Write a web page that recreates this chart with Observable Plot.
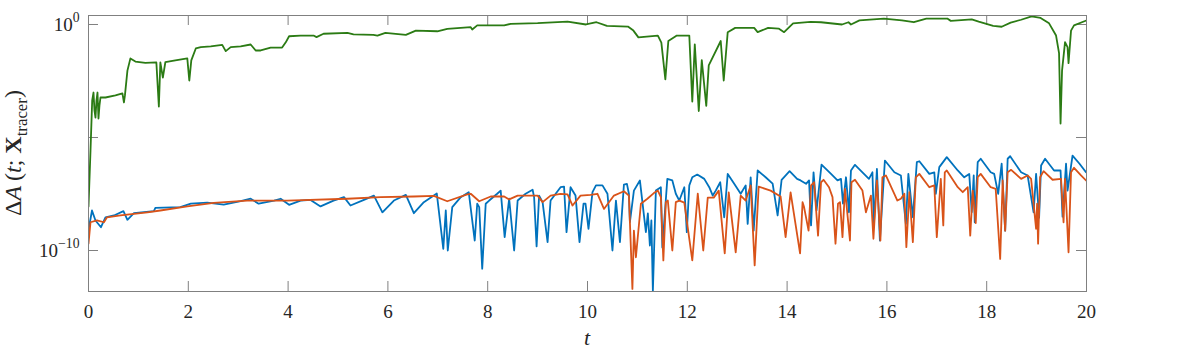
<!DOCTYPE html>
<html>
<head>
<meta charset="utf-8">
<script src="https://cdn.jsdelivr.net/npm/d3@7"></script>
<script src="https://cdn.jsdelivr.net/npm/@observablehq/plot@0.6"></script>
<style>
  html, body { margin: 0; padding: 0; background: #fff; }
  svg { display: block; }
</style>
</head>
<body>
<div id="chart"></div>
<script>
// Values. Series values are stored as log10(ΔA).
const xTicks = [0, 2, 4, 6, 8, 10, 12, 14, 16, 18, 20];
const yTicks = [1, 1e-5, 1e-10];
const yLabelTicks = [1, 1e-10];
const yDomain = [1.535e-12, 2.5];

const greenT = [0,0.04,0.074,0.10,0.12,0.14,0.16,0.18,0.20,0.22,0.24,0.34,0.54,0.68,0.71,0.73,0.78,0.84,0.94,1.14,1.36,1.41,1.44,1.49,1.54,1.74,1.98,2.02,2.06,2.15,2.25,2.45,2.68,2.75,2.85,3.05,3.25,3.35,3.45,3.65,3.88,3.95,4.02,4.25,4.51,4.57,4.71,5.19,5.31,5.71,5.79,5.95,6.36,6.56,6.99,7.19,7.66,7.69,7.79,8.33,8.46,9.00,9.60,9.97,10.18,10.39,10.81,10.92,11.02,11.41,11.48,11.56,11.62,11.79,12.04,12.10,12.15,12.23,12.29,12.38,12.43,12.67,12.73,12.81,12.96,13.34,13.41,13.62,13.83,13.94,14.12,14.47,14.68,15.10,15.23,15.28,15.45,15.94,16.30,16.54,16.79,17.21,17.28,17.70,17.84,18.13,18.30,18.48,18.69,18.90,19.08,19.25,19.39,19.45,19.48,19.51,19.57,19.62,19.64,19.69,19.75,20.0];
const greenLog10 = [-8.05,-5.58,-3.36,-3.01,-3.81,-4.12,-3.36,-3.01,-4.16,-3.58,-3.23,-3.23,-3.14,-3.05,-3.45,-3.14,-2.04,-1.50,-1.64,-1.70,-1.68,-3.63,-1.68,-2.35,-1.67,-1.59,-1.50,-2.48,-1.59,-1.06,-1.00,-0.97,-0.90,-1.18,-1.00,-0.97,-0.885,-1.15,-1.15,-1.02,-1.02,-0.80,-0.52,-0.49,-0.49,-0.56,-0.41,-0.37,-0.44,-0.46,-0.49,-0.37,-0.46,-0.27,-0.30,-0.19,-0.12,-0.22,-0.04,-0.04,0.03,0.06,0.13,0.00,0.10,-0.06,-0.09,-0.27,-0.57,-0.49,-0.80,-2.43,-0.73,-0.49,-0.49,-3.41,-0.88,-3.83,-1.58,-3.60,-1.81,-0.73,-2.48,-0.34,-0.15,-0.15,-0.34,-0.15,-0.18,-0.34,0.05,0.12,0.10,0.00,0.10,0.00,0.18,0.26,0.18,0.10,0.26,0.26,0.16,0.23,0.13,-0.06,-0.10,0.08,0.21,0.36,0.29,0.05,-0.49,-1.27,-4.38,-2.04,-0.78,-1.00,-1.71,-0.27,-0.04,0.18];

const blueT = [0.01,0.07,0.14,0.25,0.34,0.51,0.70,0.78,0.91,1.31,1.34,1.84,2.05,2.38,2.71,3.05,3.25,3.41,3.72,3.85,4.02,4.25,4.45,4.65,4.91,5.12,5.25,5.52,5.72,5.89,6.12,6.36,6.52,6.72,6.98,7.11,7.16,7.20,7.29,7.46,7.62,7.74,7.79,7.83,7.89,7.96,8.03,8.19,8.26,8.34,8.43,8.53,8.60,8.76,8.90,8.93,8.98,9.03,9.10,9.20,9.26,9.46,9.53,9.58,9.66,9.76,9.84,9.92,9.96,10.02,10.10,10.17,10.30,10.40,10.50,10.57,10.65,10.73,10.79,10.83,10.85,10.93,11.05,11.17,11.21,11.25,11.28,11.31,11.37,11.47,11.50,11.60,11.70,11.77,11.84,11.94,11.99,12.04,12.10,12.20,12.34,12.44,12.51,12.57,12.66,12.74,12.81,12.94,13.07,13.17,13.21,13.27,13.33,13.41,13.57,13.71,13.81,13.89,14.05,14.20,14.27,14.38,14.44,14.48,14.53,14.59,14.69,14.88,15.01,15.08,15.12,15.18,15.24,15.28,15.36,15.54,15.64,15.71,15.74,15.80,15.86,15.96,16.15,16.28,16.38,16.43,16.52,16.60,16.65,16.85,16.95,16.98,17.05,17.20,17.42,17.55,17.65,17.70,17.74,17.76,17.82,17.88,18.08,18.15,18.23,18.30,18.37,18.42,18.47,18.69,18.82,18.94,18.99,19.05,19.09,19.17,19.35,19.48,19.52,19.59,19.62,19.72,19.86,19.99];
const blueLog10 = [-8.97,-8.23,-8.67,-8.97,-8.53,-8.45,-8.26,-8.64,-8.35,-8.26,-8.11,-8.08,-7.93,-7.88,-7.97,-7.82,-7.71,-7.93,-7.79,-7.71,-7.98,-7.79,-7.76,-8.05,-7.79,-7.64,-8.01,-7.76,-7.57,-8.31,-7.79,-7.54,-8.35,-7.86,-7.48,-9.93,-8.23,-10.00,-8.08,-7.64,-7.42,-9.56,-7.93,-8.08,-10.81,-7.93,-7.79,-7.49,-7.35,-9.41,-7.71,-10.00,-7.79,-7.49,-7.31,-7.64,-9.82,-7.57,-7.86,-9.63,-7.79,-7.20,-7.17,-9.19,-7.20,-7.57,-9.63,-7.93,-7.93,-9.04,-7.42,-7.12,-7.12,-7.49,-10.00,-7.79,-9.63,-7.08,-7.05,-7.49,-8.75,-7.35,-6.90,-9.19,-8.36,-9.78,-8.67,-11.8,-7.35,-7.20,-9.87,-6.83,-6.90,-7.49,-7.79,-7.20,-9.19,-7.12,-6.76,-6.64,-6.83,-7.20,-7.57,-7.35,-6.98,-8.53,-6.61,-7.05,-7.49,-7.12,-8.82,-6.76,-9.12,-6.46,-6.76,-7.04,-8.45,-6.87,-6.49,-6.83,-6.90,-7.05,-6.90,-8.89,-6.54,-8.23,-6.20,-6.61,-6.90,-6.83,-7.93,-6.76,-8.31,-6.46,-6.21,-6.61,-6.83,-6.54,-8.82,-6.39,-9.56,-6.02,-6.54,-6.68,-8.82,-6.61,-8.53,-6.09,-6.05,-6.61,-6.54,-7.49,-6.31,-5.87,-6.46,-6.76,-6.61,-8.31,-6.68,-8.75,-6.09,-5.94,-6.54,-6.61,-7.49,-6.16,-9.12,-5.94,-5.83,-6.54,-6.68,-8.31,-6.61,-8.55,-6.24,-5.94,-6.46,-6.46,-8.5,-6.16,-7.35,-5.80,-6.16,-6.54];

const orangeT = [0,0.04,0.17,0.31,0.37,0.64,1.18,1.44,1.98,2.51,3.18,3.98,5.19,5.85,6.52,6.92,7.19,7.59,7.66,7.83,8.06,8.33,8.43,8.60,9.00,9.10,9.26,9.46,9.60,9.70,9.86,10.06,10.20,10.33,10.53,10.73,10.83,10.90,10.93,10.97,11.07,11.20,11.33,11.41,11.47,11.52,11.57,11.61,11.70,11.77,11.84,11.94,12.10,12.21,12.32,12.41,12.53,12.63,12.75,12.83,12.97,13.07,13.17,13.27,13.35,13.43,13.67,13.87,13.97,14.07,14.26,14.31,14.34,14.43,14.48,14.54,14.62,14.68,14.73,14.84,14.91,14.97,15.02,15.06,15.11,15.16,15.26,15.29,15.36,15.51,15.58,15.68,15.73,15.80,15.87,15.91,15.98,16.21,16.28,16.35,16.39,16.45,16.52,16.58,16.65,16.85,16.95,17.00,17.08,17.13,17.16,17.20,17.42,17.52,17.62,17.67,17.72,17.78,17.82,17.88,18.08,18.18,18.27,18.32,18.37,18.42,18.49,18.69,18.82,18.89,18.99,19.01,19.03,19.07,19.14,19.32,19.49,19.54,19.57,19.64,19.69,19.75,19.89,19.99];
const orangeLog10 = [-9.70,-8.75,-8.67,-8.75,-8.53,-8.45,-8.31,-8.23,-8.05,-7.89,-7.79,-7.79,-7.71,-7.64,-7.61,-7.58,-7.82,-7.52,-7.49,-7.82,-7.61,-7.61,-7.74,-7.57,-7.57,-7.86,-7.57,-7.49,-7.52,-8.01,-7.57,-7.54,-7.49,-8.16,-7.57,-7.38,-7.57,-11.70,-9.12,-10.30,-7.93,-7.71,-7.46,-7.35,-7.64,-10.44,-7.86,-7.79,-10.00,-7.86,-7.79,-7.88,-10.44,-7.48,-10.00,-7.66,-7.66,-7.35,-10.13,-7.43,-10.08,-7.57,-7.79,-7.12,-10.66,-7.17,-7.35,-7.61,-9.41,-7.43,-10.13,-7.86,-8.08,-9.12,-7.12,-6.98,-9.34,-6.98,-6.87,-7.20,-7.64,-9.70,-7.93,-7.86,-9.41,-7.27,-9.56,-6.98,-6.87,-7.35,-8.31,-7.57,-9.48,-6.90,-9.56,-6.76,-6.68,-7.79,-7.71,-7.49,-9.85,-7.42,-9.63,-6.76,-6.61,-7.20,-7.12,-9.41,-6.83,-8.89,-6.54,-6.46,-7.20,-7.42,-7.20,-9.34,-7.35,-8.79,-6.76,-6.61,-7.20,-7.27,-10.37,-6.90,-9.12,-6.54,-6.43,-6.83,-6.68,-6.83,-9.04,-7.93,-9.70,-6.76,-6.49,-6.87,-6.83,-8.75,-6.83,-10.08,-6.54,-6.34,-6.68,-6.90];

const toRows = (ts, logs) => ts.map((t, i) => ({t, v: Math.pow(10, logs[i])}));
const blueData = toRows(blueT, blueLog10);
const orangeData = toRows(orangeT, orangeLog10);
const greenData = toRows(greenT, greenLog10);

const axisGray = "#808080";
const W = 1196, H = 349, mL = 88, mR = 110, mT = 15, mB = 58;
const frameW = W - mL - mR, frameH = H - mT - mB, tickLen = 10;

const svg = Plot.plot({
  width: W, height: H,
  marginLeft: mL, marginRight: mR, marginTop: mT, marginBottom: mB,
  style: {fontFamily: "'Liberation Serif', serif", fontSize: "19px", color: "#262626", background: "#fff", overflow: "visible"},
  x: {domain: [0, 20]},
  y: {type: "log", domain: yDomain},
  marks: [
    Plot.axisX({ticks: xTicks, tickSize: 0, tickPadding: 13, label: null, fontSize: 19}),
    Plot.axisY({ticks: yLabelTicks, tickSize: 0, tickPadding: 9, label: null, fontSize: 19,
      tickFormat: d => String(Math.round(Math.log10(d)))}),
    Plot.tickX(xTicks, {x: d => d, insetTop: frameH - tickLen, stroke: axisGray}),
    Plot.tickX(xTicks, {x: d => d, insetBottom: frameH - tickLen, stroke: axisGray}),
    Plot.tickY(yTicks, {y: d => d, insetRight: frameW - tickLen, stroke: axisGray}),
    Plot.tickY(yTicks, {y: d => d, insetLeft: frameW - tickLen, stroke: axisGray}),
    Plot.line(blueData, {x: "t", y: "v", stroke: "#0072BD", strokeWidth: 1.8, strokeLinejoin: "round", clip: true}),
    Plot.line(orangeData, {x: "t", y: "v", stroke: "#D95319", strokeWidth: 1.8, strokeLinejoin: "round", clip: true}),
    Plot.line(greenData, {x: "t", y: "v", stroke: "#2b7b14", strokeWidth: 1.8, strokeLinejoin: "round", clip: true}),
    Plot.frame({stroke: axisGray})
  ]
});

const s = d3.select(svg);
// superscript powers of ten on y tick labels
s.selectAll('g[aria-label="y-axis tick label"] text').each(function() {
  const e = this.textContent.replace("-", "\u2212");
  const t = d3.select(this);
  t.text(null);
  t.append("tspan").text("10");
  t.append("tspan").attr("dy", "-0.6em").attr("font-size", "0.72em").text(e);
});

// y-axis label: ΔA(t; X_tracer)
const yl = s.append("text")
  .attr("transform", `translate(21,${mT + frameH / 2}) rotate(-90)`)
  .attr("text-anchor", "middle")
  .attr("fill", "#262626")
  .attr("font-family", "'Liberation Serif', serif")
  .attr("font-size", 24);
yl.append("tspan").text("\u0394");
yl.append("tspan").attr("font-style", "italic").text("A");
yl.append("tspan").text("\u2009(");
yl.append("tspan").attr("font-style", "italic").text("t");
yl.append("tspan").text("; ");
yl.append("tspan").attr("font-weight", "bold").text("X");
yl.append("tspan").attr("font-size", "0.7em").attr("dy", "0.35em").text("tracer");
yl.append("tspan").attr("dy", "-0.25em").text(")");

// x-axis label: t
s.append("text")
  .attr("x", mL + frameW / 2)
  .attr("y", 345)
  .attr("text-anchor", "middle")
  .attr("fill", "#262626")
  .attr("font-family", "'Liberation Serif', serif")
  .attr("font-style", "italic")
  .attr("font-size", 22)
  .text("t");

document.getElementById("chart").appendChild(svg);
</script>
</body>
</html>
